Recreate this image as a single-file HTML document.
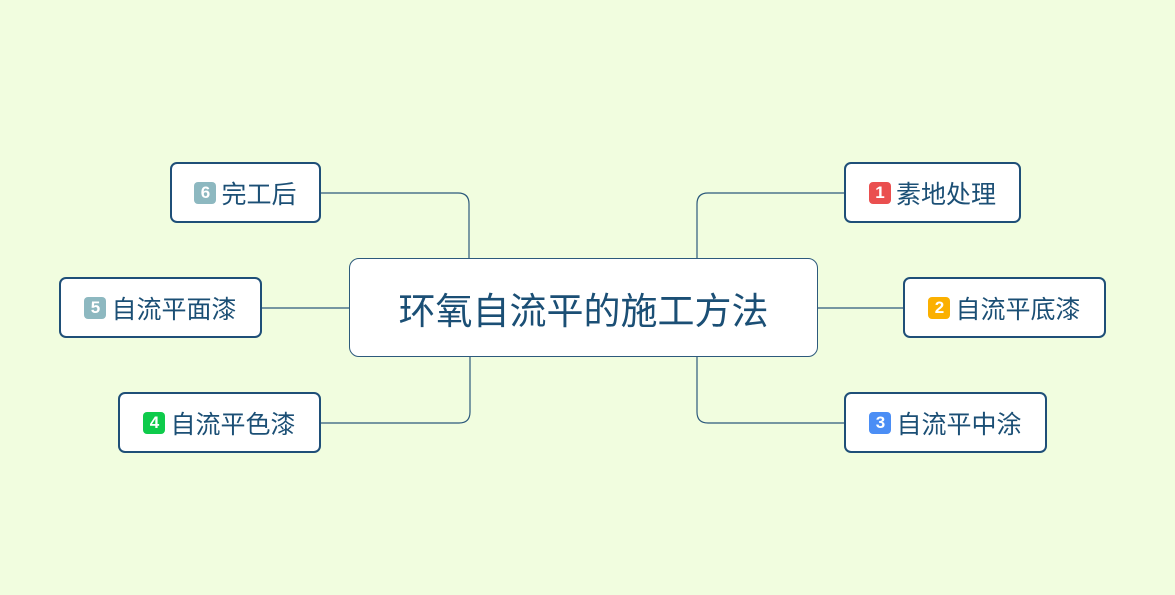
<!DOCTYPE html>
<html><head><meta charset="utf-8"><style>
body{margin:0;width:1175px;height:595px;background:#f1fddf;position:relative;overflow:hidden;font-family:"Liberation Sans","Noto Sans CJK SC",sans-serif}
.c{position:absolute;left:349px;top:258px;width:467px;height:97px;border:1px solid #2d5a7c;border-radius:10px;background:#fff;color:#1b4f75;font-size:37px;display:flex;align-items:center;justify-content:center}
.n{position:absolute;height:56px;border:2.5px solid #1f4f78;border-radius:7px;background:#fff;color:#1b4f75;font-size:25px;display:flex;align-items:center;justify-content:center;box-sizing:border-box}
.b{display:inline-block;width:22px;height:22px;border-radius:4px;color:#fff;font-size:17px;font-weight:bold;line-height:22px;text-align:center;margin-right:5px}
svg{position:absolute;left:0;top:0}
</style></head><body>
<svg width="1175" height="595" fill="none" stroke="#2d5a7c" stroke-width="1.2">
<path d="M320 193 H458 Q469 193 469 204 V258"/>
<path d="M845 193 H708 Q697 193 697 204 V258"/>
<path d="M261 308 H349"/>
<path d="M818 308 H904"/>
<path d="M320 423 H459 Q470 423 470 412 V357"/>
<path d="M845 423 H708 Q697 423 697 412 V357"/>
</svg>
<div class="c">环氧自流平的施工方法</div>
<div class="n" style="left:170px;top:162px;width:151px;height:61px"><span class="b" style="background:#8db8c0">6</span>完工后</div>
<div class="n" style="left:844px;top:162px;width:177px;height:61px"><span class="b" style="background:#ea4f4f">1</span>素地处理</div>
<div class="n" style="left:59px;top:277px;width:203px;height:61px"><span class="b" style="background:#8db8c0">5</span>自流平面漆</div>
<div class="n" style="left:903px;top:277px;width:203px;height:61px"><span class="b" style="background:#fbb000">2</span>自流平底漆</div>
<div class="n" style="left:118px;top:392px;width:203px;height:61px"><span class="b" style="background:#0ecb4b">4</span>自流平色漆</div>
<div class="n" style="left:844px;top:392px;width:203px;height:61px"><span class="b" style="background:#4b8ef5">3</span>自流平中涂</div>
</body></html>
